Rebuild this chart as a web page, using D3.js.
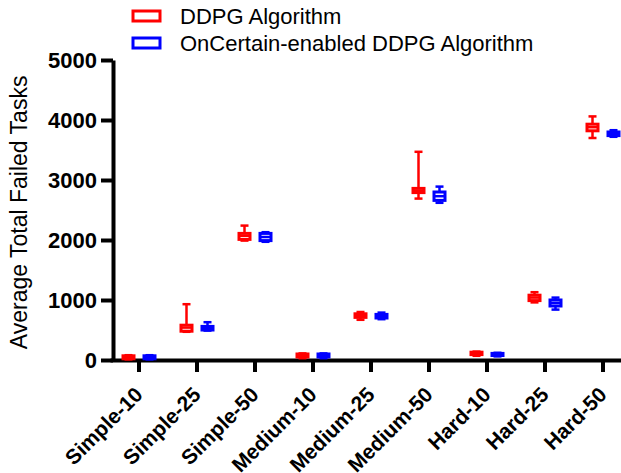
<!DOCTYPE html>
<html>
<head>
<meta charset="utf-8">
<script src="https://cdn.jsdelivr.net/npm/d3@7"></script>
<style>
  body { margin: 0; background: #fff; }
  svg { display: block; font-family: "Liberation Sans", Arial, sans-serif; }
  .axis path, .axis line { stroke: #000; stroke-width: 4; }
  .axis text { fill: #000; font-weight: bold; }
</style>
</head>
<body>
<svg id="chart"></svg>
<script>
// categories on the x axis
const categories = ['Simple-10', 'Simple-25', 'Simple-50', 'Medium-10', 'Medium-25',
  'Medium-50', 'Hard-10', 'Hard-25', 'Hard-50'];

// five number summary per category: [min, q1, median, q3, max]
const ddpgStats = [
  [10, 20, 40, 70, 80],
  [470, 480, 540, 580, 930],
  [1990, 2010, 2070, 2110, 2240],
  [30, 50, 70, 100, 110],
  [670, 710, 740, 770, 800],
  [2690, 2790, 2820, 2860, 3470],
  [70, 90, 110, 130, 140],
  [960, 990, 1040, 1080, 1130],
  [3700, 3820, 3880, 3930, 4060],
];

const onCertainStats = [
  [10, 20, 40, 70, 80],
  [490, 500, 530, 560, 630],
  [1970, 1990, 2050, 2110, 2130],
  [30, 50, 70, 100, 110],
  [680, 700, 730, 760, 790],
  [2620, 2660, 2730, 2800, 2890],
  [60, 75, 90, 110, 120],
  [840, 900, 950, 1000, 1040],
  [3720, 3740, 3770, 3800, 3830],
];

const seriesNames = ['DDPG Algorithm', 'OnCertain-enabled DDPG Algorithm'];
const seriesColors = ['#ff0000', '#0000ff'];
const yTicks = [0, 1000, 2000, 3000, 4000, 5000];

// set viewport size
const width = 621;
const height = 473;

const svg = d3.select('#chart')
  .attr('width', width)
  .attr('height', height);

const xScale = d3.scaleBand()
  .domain(categories)
  .range([110, 632]);

const offset = d3.scalePoint()
  .domain(seriesNames)
  .range([-10.5, 10.5]);

const yScale = d3.scaleLinear()
  .domain([0, 5000])
  .range([360, 60]);

// axes
const xAxis = d3.axisBottom(xScale).tickSize(12).tickSizeOuter(0);
const yAxis = d3.axisLeft(yScale)
  .tickValues(yTicks)
  .tickFormat(d3.format('d'))
  .tickSize(12)
  .tickSizeOuter(0)
  .tickPadding(4);

svg.append('g')
  .attr('class', 'axis')
  .attr('transform', 'translate(113,0)')
  .call(yAxis)
  .selectAll('text')
  .style('font-size', '22px');

const gx = svg.append('g')
  .attr('class', 'axis')
  .attr('transform', `translate(0,${yScale(0)})`)
  .call(xAxis);

gx.selectAll('.tick text')
  .style('font-size', '21px')
  .attr('text-anchor', 'end')
  .attr('dy', null)
  .attr('y', 0)
  .attr('transform', 'translate(5,36) rotate(-45)');

// y label
svg.append('text')
  .attr('transform', 'rotate(-90)')
  .attr('x', -yScale(2460))
  .attr('y', 27)
  .attr('text-anchor', 'middle')
  .style('font-size', '23px')
  .text('Average Total Failed Tasks');

// box plots
const boxW = 11;
const capW = 8;

[ddpgStats, onCertainStats].forEach((stats, si) => {
  const color = seriesColors[si];
  const g = svg.append('g');
  const cx = (d, i) => xScale(categories[i]) + xScale.bandwidth() / 2 + offset(seriesNames[si]);

  const items = g.selectAll('g.box')
    .data(stats)
    .join('g')
    .attr('class', 'box');

  // whisker
  items.append('line')
    .attr('x1', cx).attr('x2', cx)
    .attr('y1', d => yScale(d[4]))
    .attr('y2', d => yScale(d[0]))
    .attr('stroke', color)
    .attr('stroke-width', 2.5);

  // caps
  items.append('line')
    .attr('x1', (d, i) => cx(d, i) - capW / 2)
    .attr('x2', (d, i) => cx(d, i) + capW / 2)
    .attr('y1', d => yScale(d[4]))
    .attr('y2', d => yScale(d[4]))
    .attr('stroke', color)
    .attr('stroke-width', 2.5);

  items.append('line')
    .attr('x1', (d, i) => cx(d, i) - capW / 2)
    .attr('x2', (d, i) => cx(d, i) + capW / 2)
    .attr('y1', d => yScale(d[0]))
    .attr('y2', d => yScale(d[0]))
    .attr('stroke', color)
    .attr('stroke-width', 2.5);

  // box
  items.append('rect')
    .attr('x', (d, i) => cx(d, i) - boxW / 2)
    .attr('width', boxW)
    .attr('y', d => yScale(d[3]))
    .attr('height', d => yScale(d[1]) - yScale(d[3]))
    .attr('fill', '#fff')
    .attr('stroke', color)
    .attr('stroke-width', 3);

  // median
  items.append('line')
    .attr('x1', (d, i) => cx(d, i) - boxW / 2)
    .attr('x2', (d, i) => cx(d, i) + boxW / 2)
    .attr('y1', d => yScale(d[2]))
    .attr('y2', d => yScale(d[2]))
    .attr('stroke', color)
    .attr('stroke-width', 2.5);
});

// legend
const legend = svg.append('g')
  .selectAll('g')
  .data(seriesNames)
  .join('g')
  .attr('transform', (d, i) => `translate(133,${11 + i * 27})`);

legend.append('rect')
  .attr('width', 27)
  .attr('height', 10)
  .attr('fill', 'none')
  .attr('stroke', (d, i) => seriesColors[i])
  .attr('stroke-width', 3);

legend.append('text')
  .attr('x', 47)
  .attr('y', 13)
  .style('font-size', '22px')
  .text(d => d);
</script>
</body>
</html>
